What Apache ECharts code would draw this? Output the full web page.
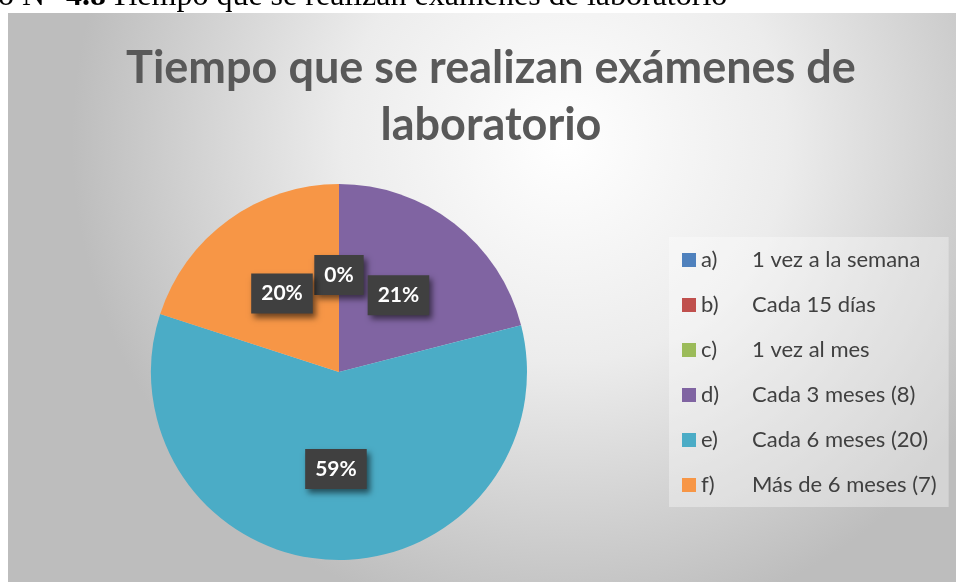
<!DOCTYPE html>
<html>
<head>
    <meta charset="UTF-8">
    <title>Tiempo que se realizan exámenes de laboratorio</title>
    <script src="https://cdn.jsdelivr.net/npm/echarts@6/dist/echarts.min.js"></script>
    <style>
        body { margin: 0; background: #fff; }
    </style>
</head>
<body>
<div id="main" style="width: 956px;height:582px;"></div>
<script type="text/javascript">
    var myChart = echarts.init(document.getElementById('main'));

    // categorias y valores (porcentajes)
    var letras = ['a)', 'b)', 'c)', 'd)', 'e)', 'f)'];
    var categorias = ['1 vez a la semana', 'Cada 15 días', '1 vez al mes',
        'Cada 3 meses (8)', 'Cada 6 meses (20)', 'Más de 6 meses (7)'];
    var valores = [0, 0, 0, 21, 59, 20];
    var colores = ['#4F81BD', '#C0504D', '#9BBB59', '#8064A2', '#4BACC6', '#F79646'];

    var titulo = 'Tiempo que se realizan exámenes de\nlaboratorio';
    var leyenda = 'Tiempo que se realizan exámenes de laboratorio';

    var datos = valores.map(function (v, i) {
        return {
            name: letras[i] + ' ' + categorias[i],
            value: v,
            itemStyle: {color: colores[i]}
        };
    });

    var option = {
        backgroundColor: '#ffffff',
        animation: false,
        graphic: [
            {
                // fondo del area del grafico
                type: 'rect',
                z: -10,
                shape: {x: 8, y: 13, width: 960, height: 580},
                style: {
                    fill: {
                        type: 'radial', x: 0.58, y: 0.22, r: 0.85,
                        colorStops: [
                            {offset: 0, color: '#ffffff'},
                            {offset: 0.45, color: '#ececec'},
                            {offset: 1, color: '#bdbdbd'}
                        ]
                    }
                }
            },
            {
                // texto del pie de figura (cortado arriba)
                type: 'text',
                left: 110, top: -19,
                style: {
                    text: leyenda,
                    font: '32px "Liberation Serif"',
                    fill: '#000'
                }
            },
            {
                type: 'text',
                right: 956 - 106, top: -19,
                style: {
                    text: '{n|Gráfico N° }{b|4.8}',
                    rich: {
                        n: {font: '32px "Liberation Serif"', fill: '#000'},
                        b: {font: 'bold 32px "Liberation Serif"', fill: '#000'}
                    }
                }
            }
        ],
        title: {
            text: titulo,
            left: 486,
            top: 35,
            textAlign: 'center',
            textStyle: {
                fontFamily: 'Lato',
                fontSize: 45,
                fontWeight: 'bold',
                color: '#595959',
                lineHeight: 57
            }
        },
        legend: {
            orient: 'vertical',
            left: 669,
            top: 237,
            padding: [12, 12, 11, 13],
            backgroundColor: 'rgba(255,255,255,0.35)',
            itemWidth: 14,
            itemHeight: 14,
            itemGap: 23,
            icon: 'rect',
            formatter: function (name) {
                var i = name.indexOf(' ');
                return '{l|' + name.slice(0, i) + '}{t|' + name.slice(i + 1) + '}';
            },
            textStyle: {
                fontFamily: 'Lato',
                fontSize: 22,
                color: '#404040',
                rich: {
                    l: {width: 51, fontFamily: 'Lato', fontSize: 22, lineHeight: 22, color: '#404040'},
                    t: {fontFamily: 'Lato', fontSize: 22, lineHeight: 22, color: '#404040'}
                }
            },
            data: datos.map(function (d) { return d.name; })
        },
        series: [{
            type: 'pie',
            center: [339, 372],
            radius: [0, 188],
            startAngle: 90,
            clockwise: true,
            percentPrecision: 0,
            avoidLabelOverlap: false,
            label: {
                show: true,
                position: 'inside',
                formatter: '{d}%',
                fontFamily: 'Lato',
                fontSize: 21,
                lineHeight: 21,
                fontWeight: 'bold',
                color: '#ffffff',
                backgroundColor: '#404040',
                padding: [10, 10, 9, 10],
                shadowColor: 'rgba(0,0,0,0.55)',
                shadowBlur: 6,
                shadowOffsetX: 3,
                shadowOffsetY: 4
            },
            labelLine: {show: false},
            emphasis: {disabled: true},
            data: datos
        }]
    };

    myChart.setOption(option);
</script>
</body>
</html>
